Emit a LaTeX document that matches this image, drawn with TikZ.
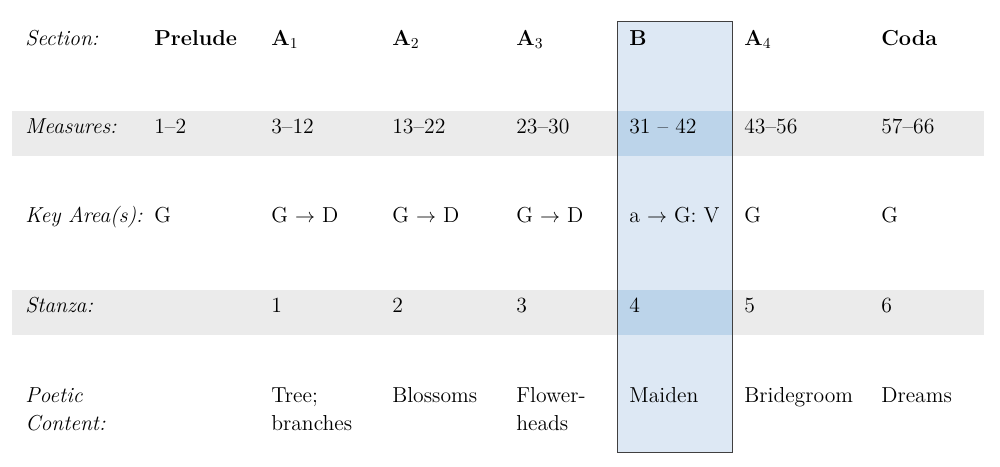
\documentclass[tikz,border=0pt]{standalone}
\usepackage{tikz}
\usetikzlibrary{positioning}
\definecolor{bandgray}{HTML}{EBEBEB}
\definecolor{hiblue}{HTML}{DDE8F4}
\definecolor{hibluedark}{HTML}{BCD4EA}
\definecolor{framegray}{HTML}{404040}
\newcommand{\sect}[1]{\textbf{A}{\mdseries\textsubscript{#1}}}

\begin{document}
\begin{tikzpicture}[x=0.6pt, y=-0.6pt, cell/.style = {anchor=base west, inner sep=0pt, align=left, font=\fontsize{13}{16.8}\selectfont}, head/.style = {cell, font=\fontsize{13}{16.8}\selectfont\bfseries}, lab/.style = {cell, font=\fontsize{13}{16.8}\selectfont\itshape}]
\useasboundingbox (0,0) rectangle (1000,466);
% shaded rows and the B column
\fill [bandgray] (12,111) rectangle (984,156);
\fill [bandgray] (12,290) rectangle (984,335);
\fill [hiblue] (617,21) rectangle (732,452);
\fill [hibluedark] (617,111) rectangle (732,156);
\fill [hibluedark] (617,290) rectangle (732,335);
\draw [framegray, line width=0.6pt] (617,21) rectangle (732,452);
% row labels (two-line cells sit on their last baseline)
\node [lab] (secL) at (25,45) {Section:};
\node [lab] (meaL) at (25,133) {Measures:};
\node [lab] (keyL) at (25,222) {Key Area(s):};
\node [lab] (staL) at (25,312) {Stanza:};
\node [lab] (poeL) at (25,430) {Poetic\\Content:};
% Prelude
\node [head] (secP) at (154,45) {Prelude};
\node [cell] (meaP) at (154,133) {1--2};
\node [cell] (keyP) at (154,222) {G};
% A1
\node [head] (secA1) at (271,45) {\sect{1}};
\node [cell] (meaA1) at (271,133) {3--12};
\node [cell] (keyA1) at (271,222) {G $\rightarrow$ D};
\node [cell] (staA1) at (271,312) {1};
\node [cell] (poeA1) at (271,430) {Tree;\\branches};
% A2
\node [head] (secA2) at (392,45) {\sect{2}};
\node [cell] (meaA2) at (392,133) {13--22};
\node [cell] (keyA2) at (392,222) {G $\rightarrow$ D};
\node [cell] (staA2) at (392,312) {2};
\node [cell] (poeA2) at (392,402) {Blossoms};
% A3
\node [head] (secA3) at (516,45) {\sect{3}};
\node [cell] (meaA3) at (516,133) {23--30};
\node [cell] (keyA3) at (516,222) {G $\rightarrow$ D};
\node [cell] (staA3) at (516,312) {3};
\node [cell] (poeA3) at (516,430) {Flower-\\heads};
% B
\node [head] (secB) at (629,45) {B};
\node [cell] (meaB) at (629,133) {31 -- 42};
\node [cell] (keyB) at (629,222) {a $\rightarrow$ G: V};
\node [cell] (staB) at (629,312) {4};
\node [cell] (poeB) at (629,402) {Maiden};
% A4
\node [head] (secA4) at (744,45) {\sect{4}};
\node [cell] (meaA4) at (744,133) {43--56};
\node [cell] (keyA4) at (744,222) {G};
\node [cell] (staA4) at (744,312) {5};
\node [cell] (poeA4) at (744,402) {Bridegroom};
% Coda
\node [head] (secC) at (881,45) {Coda};
\node [cell] (meaC) at (881,133) {57--66};
\node [cell] (keyC) at (881,222) {G};
\node [cell] (staC) at (881,312) {6};
\node [cell] (poeC) at (881,402) {Dreams};
\end{tikzpicture}
\end{document}
